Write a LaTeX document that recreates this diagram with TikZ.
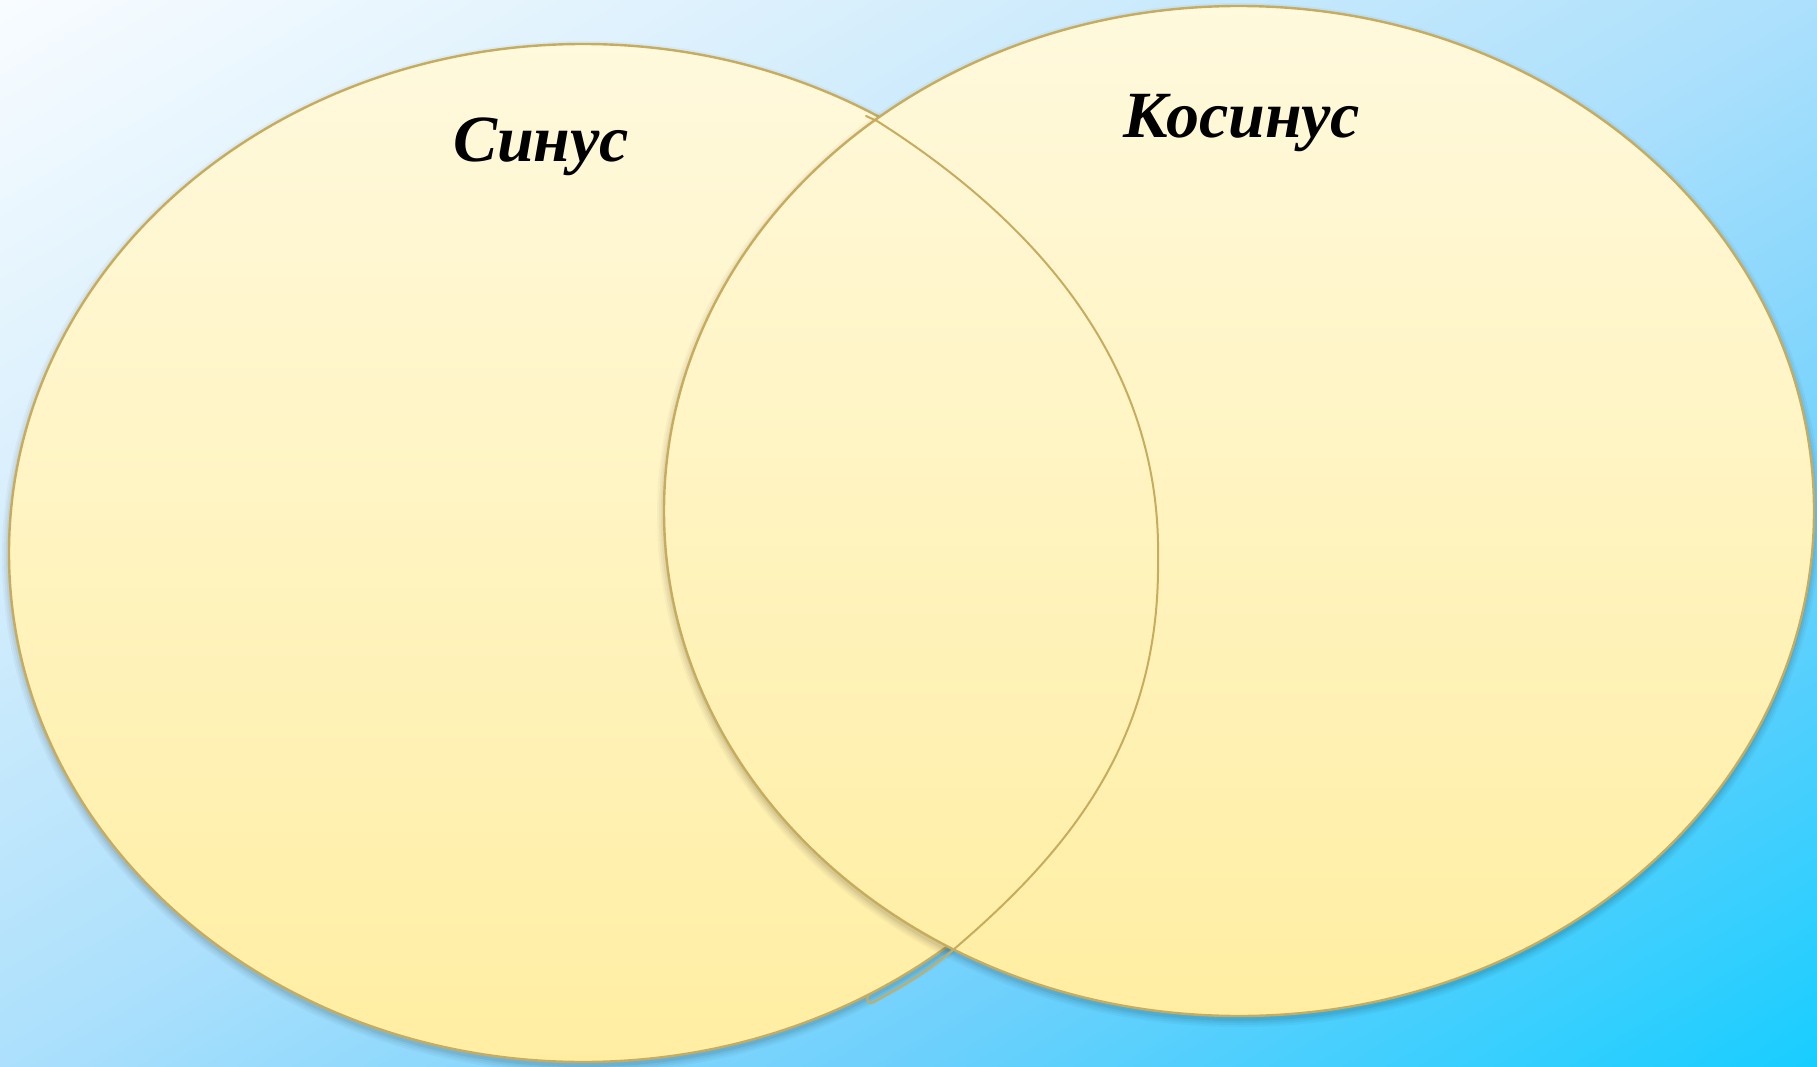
\documentclass[tikz,border=0pt]{standalone}
\usepackage{fontspec}
\setmainfont{Liberation Serif}
\usetikzlibrary{shapes.geometric}

\definecolor{bgA}{HTML}{F8FCFF}
\definecolor{bgB}{HTML}{D6EEFC}
\definecolor{bgC}{HTML}{ACE0FC}
\definecolor{bgD}{HTML}{6CD0FC}
\definecolor{bgE}{HTML}{18CEFF}
\definecolor{setTop}{HTML}{FFF9DD}
\definecolor{setBot}{HTML}{FFEEA2}
\definecolor{setLine}{HTML}{C8AC5E}

% left-to-right wash, later turned onto the page diagonal;
% the corners of the page land at about 14.6bp and 85.4bp
\pgfdeclarehorizontalshading{bgwash}{100bp}{%
  color(0bp)=(bgA); color(14.6bp)=(bgA); color(32.3bp)=(bgB); color(50bp)=(bgC);
  color(67.7bp)=(bgD); color(85.4bp)=(bgE); color(100bp)=(bgE)}

\tikzset{
  setshape/.style={ellipse, inner sep=0pt, draw=setLine, line width=2.4pt,
    top color=setTop, bottom color=setBot},
  setlabel/.style={anchor=base, inner sep=0pt, text=black,
    font=\fontsize{66}{70}\selectfont\bfseries\itshape},
  freeline/.style={draw=setLine, line width=2pt, line cap=round, line join=round},
}

% soft shadow under an ellipse: #1 centre x, #2 centre y, #3 x radius, #4 y radius
\newcommand{\softshadow}[4]{%
  \foreach \grow/\op in {7/0.03,5/0.035,3/0.045,1/0.06}{%
    \fill[black, opacity=\op] (#1,#2+4) ellipse [x radius=#3+\grow, y radius=#4+\grow];
  }%
}

\begin{document}
\begin{tikzpicture}[x=1pt,y=-1pt]
  \useasboundingbox (0,0) rectangle (1817,1067);

  % background: a square shaded along its diagonal, stretched over the page
  \begin{scope}[transform canvas={xscale=18.17, yscale=10.67}]
    \shade[shading=bgwash, shading angle=-45] (0,0) rectangle (100,100);
  \end{scope}

  % left set
  \softshadow{583}{553}{574}{509}
  \node[setshape, minimum width=1148pt, minimum height=1018pt] (sinSet) at (583,553) {};

  % right set
  \softshadow{1239}{511}{575}{505}
  \node[setshape, minimum width=1150pt, minimum height=1010pt] (cosSet) at (1239,511) {};

  % freehand outline through the overlap
  \coordinate (fTop)  at (866,116);
  \coordinate (fA)    at (877,121);
  \coordinate (fMid)  at (1158,560);
  \coordinate (fLow)  at (953,950);
  \coordinate (fHook) at (874,1002);
  \coordinate (fEnd)  at (868,996);
  \draw[freeline] (fTop) -- (fA)
    .. controls (1030,218) and (1162,360) .. (fMid)
    .. controls (1160,740) and (1070,850) .. (fLow)
    .. controls (918,980) and (885,995) .. (fHook)
    .. controls (868,1005) and (866,1000) .. (fEnd);

  % labels
  \node[setlabel] (sinLabel) at (541,162) {Синус};
  \node[setlabel] (cosLabel) at (1242,138) {Косинус};
\end{tikzpicture}
\end{document}
